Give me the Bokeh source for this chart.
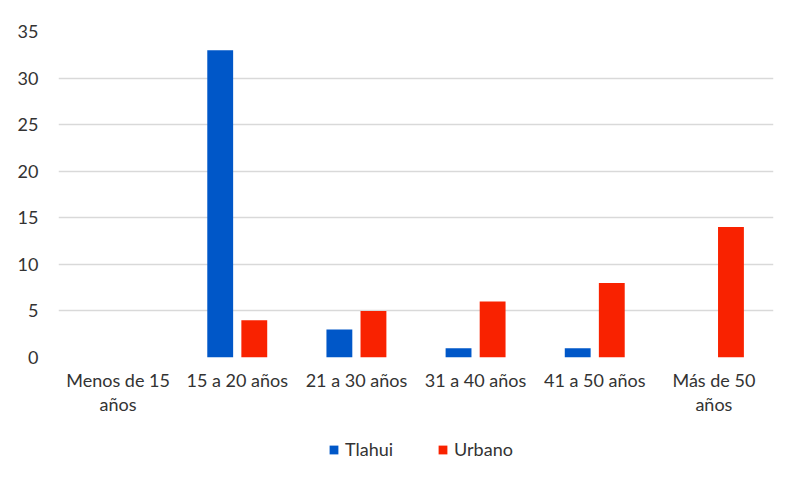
from bokeh.plotting import figure
from bokeh.layouts import column
from bokeh.models import FactorRange, Range1d, Legend, LegendItem, ColumnDataSource
from bokeh.transform import dodge
from bokeh.embed import file_html
from bokeh.resources import INLINE

categories = ["Menos de 15\naños", "15 a 20 años", "21 a 30 años", "31 a 40 años", "41 a 50 años", "Más de 50\naños"]
tlahui = [0, 33, 3, 1, 1, 0]
urbano = [0, 4, 5, 6, 8, 14]
series_names = ["Tlahui", "Urbano"]
y_ticks = [0, 5, 10, 15, 20, 25, 30, 35]

BLUE = "#0057C8"
RED = "#F92200"
FONT = "Lato"
TXT = "#333333"

src = ColumnDataSource(dict(cat=categories, tlahui=tlahui, urbano=urbano))

p = figure(width=781, height=432, x_range=FactorRange(*categories, range_padding=0),
           y_range=Range1d(0, 35), output_backend="svg", toolbar_location=None,
           min_border_left=58, min_border_right=8, min_border_top=31, min_border_bottom=75)
p.outline_line_color = None

p.vbar(x=dodge("cat", -0.143, range=p.x_range), top="tlahui", width=0.217, source=src,
       fill_color=BLUE, line_color=None)
p.vbar(x=dodge("cat", 0.143, range=p.x_range), top="urbano", width=0.217, source=src,
       fill_color=RED, line_color=None)

p.xgrid.grid_line_color = None
p.ygrid.grid_line_color = "#D9D9D9"
p.ygrid.grid_line_width = 1.5
p.yaxis.ticker = y_ticks
p.yaxis.major_label_standoff = 14
p.xaxis.major_label_standoff = 5
p.xaxis.major_label_text_line_height = 1.1
for ax in list(p.xaxis) + list(p.yaxis):
    ax.axis_line_color = None
    ax.major_tick_line_color = None
    ax.minor_tick_line_color = None
    ax.major_label_text_font = FONT
    ax.major_label_text_font_size = "18px"
    ax.major_label_text_color = TXT

# legend strip below the chart (its bars lie outside its visible range; only the legend shows)
p2 = figure(width=781, height=40, output_backend="svg", toolbar_location=None,
            x_range=FactorRange(*categories), y_range=Range1d(100, 101),
            x_axis_location=None, y_axis_location=None,
            min_border_left=0, min_border_right=0, min_border_top=0, min_border_bottom=0)
p2.outline_line_color = None
p2.xgrid.grid_line_color = None
p2.ygrid.grid_line_color = None
k1 = p2.vbar(x="cat", top="tlahui", width=0.2, source=src, fill_color=BLUE, line_color=None)
k2 = p2.vbar(x="cat", top="urbano", width=0.2, source=src, fill_color=RED, line_color=None)

legend = Legend(items=[LegendItem(label=series_names[0], renderers=[k1]),
                       LegendItem(label=series_names[1], renderers=[k2])],
                orientation="horizontal", location=(270, 12),
                label_text_font=FONT, label_text_font_size="18px", label_text_color=TXT,
                glyph_width=11, glyph_height=11, label_standoff=6, spacing=44,
                padding=0, margin=0, border_line_color=None, background_fill_alpha=0)
p2.add_layout(legend, "center")

layout = column(p, p2, spacing=0)
open("out.html", "w").write(file_html(layout, INLINE))
